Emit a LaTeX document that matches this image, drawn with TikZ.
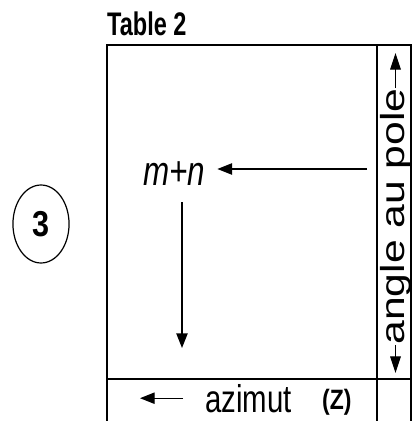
\documentclass[tikz,border=0pt]{standalone}
\usepackage{fontspec}
\setmainfont{Liberation Sans}
\usetikzlibrary{positioning, arrows.meta, shapes.geometric, calc}
\tikzset{
    frame/.style={line width=1.1pt},
    arr/.style={line width=1pt, -{Triangle[length=11pt, width=8.5pt]}},
    polearr/.style={line width=0.9pt, -{Triangle[length=12.5pt, width=8pt]}},
    lbl/.style={inner sep=0pt},
}
\begin{document}
\begin{tikzpicture}[x=0.75pt, y=-0.75pt]
    \tikzset{
      every node/.append style={lbl}
    }
    \useasboundingbox (0,0) rectangle (412,421);

    % table frame
    \draw[frame] (107,421) -- (107,45) -- (411,45) -- (411,421);
    \draw[frame] (377,45) -- (377,421);
    \draw[frame] (107,379) -- (411,379);

    \node[anchor=base west, xscale=0.72, font=\bfseries\fontsize{24.5}{24.5}\selectfont] (tbl) at (107,35) {Table 2};

    \node[ellipse, draw, line width=0.9pt, xscale=0.85, minimum width=49.5pt, minimum height=58.5pt,
          font=\bfseries\fontsize{27}{27}\selectfont] (circ) at (41,224) {3};

    \node[anchor=base west, xscale=0.76, font=\itshape\fontsize{31}{31}\selectfont] (mn) at (143,185) {m+n};
    \coordinate (hStart) at (367,169);
    \coordinate (vTop) at (182,202);
    \coordinate (vTip) at (182,348);
    \draw[arr, shorten >=9pt] (hStart) -- (hStart -| mn.east);
    \draw[arr] (vTop) -- (vTip);

    \node[anchor=base west, xscale=0.76, font=\fontsize{29}{29}\selectfont] (azim) at (205,412) {azimut};
    \node[anchor=base west, xscale=0.82, font=\bfseries\fontsize{21}{21}\selectfont] (zlab) at (322,409) {(Z)};
    \coordinate (azTip) at (140,400);
    \draw[arr] ([xshift=-16.5pt]azim.west) -- (azTip |- azim.west);

    \node[rotate=90, xscale=1.28, font=\fontsize{25}{25}\selectfont] (pole) at (395.5,216.5) {angle au pole};
    \coordinate (poleN) at (395,53);
    \coordinate (poleS) at (395,373);
    \draw[polearr] (pole.east) -- (pole.east |- poleN);
    \draw[polearr] (pole.west) -- (pole.west |- poleS);
\end{tikzpicture}
\end{document}
